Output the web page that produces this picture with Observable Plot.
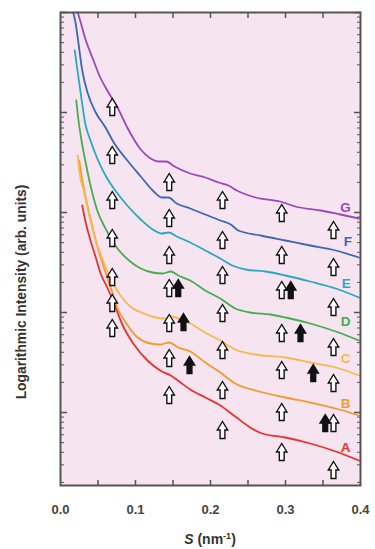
<!DOCTYPE html>
<html><head><meta charset="utf-8">
<script src="https://cdn.jsdelivr.net/npm/d3@7"></script>
<script src="https://cdn.jsdelivr.net/npm/@observablehq/plot@0.6"></script>
<style>
body{margin:0;background:#fff;font-family:"Liberation Sans",Arial,sans-serif;}
#xlabel{width:300px;margin-left:60px;text-align:center;font-weight:bold;font-size:14px;color:#333;height:24px;line-height:22px;}
#xlabel .sup{font-size:9px;vertical-align:5px;}
</style></head><body>
<div id="chart"></div>
<div id="xlabel"><i>S</i> (nm<span class="sup">-1</span>)</div>
<script>
// Curve names and colors
const curveNames = ["A","B","C","D","E","F","G"];
const curveColors = ["#e8332f","#f39a2e","#f5b94f","#45ae4c","#2aa8c2","#3b67b4","#9b48bd"];

// log10 intensity (arb. units), vs S (nm^-1)
const sA = [0.029,0.033,0.040,0.047,0.053,0.063,0.071,0.083,0.097,0.116,0.133,0.147,0.160,0.173,0.193,0.211,0.233,0.253,0.269,0.300,0.333,0.367,0.398];
const logIA = [3.07,2.92,2.72,2.55,2.40,2.24,2.10,1.87,1.69,1.52,1.42,1.37,1.30,1.23,1.15,1.08,0.96,0.85,0.79,0.75,0.69,0.61,0.52];
const sB = [0.025,0.028,0.033,0.040,0.047,0.057,0.067,0.076,0.087,0.100,0.120,0.133,0.145,0.157,0.173,0.193,0.213,0.233,0.260,0.300,0.333,0.367,0.398];
const logIB = [3.52,3.37,3.17,2.94,2.72,2.47,2.25,2.04,1.90,1.77,1.69,1.68,1.70,1.65,1.61,1.50,1.40,1.29,1.22,1.15,1.10,1.04,0.97];
const sC = [0.023,0.025,0.031,0.036,0.044,0.053,0.067,0.080,0.093,0.111,0.127,0.139,0.149,0.160,0.173,0.193,0.213,0.233,0.260,0.300,0.333,0.367,0.398];
const logIC = [3.57,3.42,3.22,3.05,2.80,2.59,2.34,2.17,2.06,1.99,1.95,1.94,1.96,1.93,1.89,1.80,1.72,1.63,1.58,1.55,1.50,1.45,1.37];
const sD = [0.021,0.024,0.028,0.033,0.040,0.049,0.060,0.076,0.093,0.107,0.123,0.136,0.147,0.157,0.173,0.193,0.213,0.233,0.253,0.280,0.300,0.333,0.367,0.398];
const logID = [4.12,3.92,3.72,3.52,3.27,3.02,2.84,2.64,2.51,2.44,2.40,2.39,2.41,2.37,2.32,2.22,2.14,2.04,2.00,1.98,1.95,1.89,1.81,1.72];
const sE = [0.019,0.023,0.027,0.033,0.040,0.049,0.060,0.073,0.089,0.107,0.123,0.135,0.144,0.155,0.173,0.193,0.213,0.229,0.247,0.273,0.300,0.333,0.367,0.398];
const logIE = [4.62,4.40,4.19,3.89,3.72,3.54,3.37,3.22,3.07,2.93,2.83,2.79,2.80,2.76,2.70,2.62,2.54,2.47,2.43,2.41,2.37,2.31,2.24,2.15];
const sF = [0.017,0.020,0.024,0.029,0.036,0.047,0.060,0.071,0.087,0.107,0.123,0.135,0.144,0.155,0.173,0.193,0.213,0.227,0.237,0.267,0.300,0.333,0.367,0.398];
const logIF = [5.00,4.90,4.69,4.42,4.20,4.00,3.85,3.70,3.54,3.36,3.22,3.15,3.15,3.09,3.04,2.98,2.92,2.88,2.82,2.77,2.72,2.67,2.62,2.55];
const sG = [0.023,0.027,0.033,0.043,0.053,0.064,0.076,0.089,0.107,0.120,0.131,0.141,0.152,0.173,0.193,0.211,0.224,0.235,0.260,0.293,0.313,0.347,0.373,0.398];
const logIG = [5.00,4.90,4.74,4.54,4.35,4.20,4.05,3.85,3.63,3.54,3.51,3.51,3.46,3.39,3.35,3.30,3.27,3.22,3.15,3.11,3.06,3.02,2.98,2.94];

// Open arrow markers (peak positions)
const openArrowS = [0.069,0.069,0.069,0.069,0.069,0.069,0.069,
  0.145,0.145,0.145,0.145,0.145,0.145,0.145,
  0.216,0.216,0.216,0.216,0.216,0.216,0.216,
  0.295,0.295,0.295,0.295,0.295,0.295,0.295,
  0.364,0.364,0.364,0.364,0.364,0.364,0.364];
const openArrowLogI = [4.05,3.57,3.12,2.74,2.35,2.09,1.84,
  3.30,2.94,2.57,2.24,1.89,1.54,1.17,
  3.12,2.72,2.37,1.99,1.62,1.22,0.82,
  2.99,2.57,2.22,1.79,1.42,1.00,0.60,
  2.82,2.45,2.05,1.65,1.29,0.89,0.42];
// Filled arrow markers
const filledArrowS = [0.157,0.164,0.172,0.307,0.320,0.337,0.353];
const filledArrowLogI = [2.24,1.90,1.47,2.22,1.79,1.39,0.89];

// Curve letter labels
const labelS = [0.380,0.380,0.380,0.380,0.381,0.383,0.380];
const labelLogI = [0.65,1.09,1.54,1.91,2.29,2.71,3.05];

const xTickValues = [0,0.1,0.2,0.3,0.4];
const xMinorTicks = [0.05,0.1,0.15,0.2,0.25,0.3,0.35];
const decadeTicks = [10,100,1000,10000,100000];
const yLabel = "Logarithmic Intensity (arb. units)";

const seriesS = [sA,sB,sC,sD,sE,sF,sG];
const seriesL = [logIA,logIB,logIC,logID,logIE,logIF,logIG];
const rows = [];
curveNames.forEach((name,i)=>{
  seriesS[i].forEach((s,j)=>rows.push({curve:name, s, I: Math.pow(10, seriesL[i][j])}));
});
const openArrows = openArrowS.map((s,i)=>({s, I: Math.pow(10, openArrowLogI[i])}));
const filledArrows = filledArrowS.map((s,i)=>({s, I: Math.pow(10, filledArrowLogI[i])}));
const labels = curveNames.map((name,i)=>({curve:name, s: labelS[i], I: Math.pow(10, labelLogI[i])}));

const arrowSymbol = {
  draw(context, size) {
    const k = Math.sqrt(size / Math.PI) / 5;
    context.moveTo(0, -9*k);
    context.lineTo(5.2*k, -0.5*k);
    context.lineTo(2.4*k, -0.5*k);
    context.lineTo(2.4*k, 8*k);
    context.lineTo(-2.4*k, 8*k);
    context.lineTo(-2.4*k, -0.5*k);
    context.lineTo(-5.2*k, -0.5*k);
    context.closePath();
  }
};

const bg = "#f6e4f0";
const chart = Plot.plot({
  width: 375,
  height: 525,
  marginTop: 12,
  marginBottom: 40,
  marginLeft: 60,
  marginRight: 15,
  style: {fontFamily: "'Liberation Sans', Arial, sans-serif", background: "white", overflow: "visible"},
  x: {domain: [0, 0.4]},
  y: {type: "log", domain: [1.862, 100000]},
  color: {domain: curveNames, range: curveColors},
  marks: [
    Plot.frame({fill: bg, stroke: "none"}),
    Plot.line(rows, {x: "s", y: "I", z: "curve", stroke: "curve", strokeWidth: 1.8, curve: "monotone-x"}),
    Plot.dot(openArrows, {x: "s", y: "I", symbol: arrowSymbol, r: 5, fill: "white", stroke: "#111", strokeWidth: 1.4}),
    Plot.dot(filledArrows, {x: "s", y: "I", symbol: arrowSymbol, r: 5, fill: "#111", stroke: "#111", strokeWidth: 1.4}),
    Plot.text(labels, {x: "s", y: "I", text: "curve", fill: "curve", fontSize: 13.5, fontWeight: "bold"}),
    Plot.axisX({anchor: "bottom", ticks: xTickValues, tickSize: 0, tickPadding: 19, tickFormat: d3.format(".1f"), fontSize: 13, fontWeight: "bold", fill: "#444", label: null}),
    Plot.axisX({anchor: "bottom", ticks: xMinorTicks, tickSize: -5, fill: "none", stroke: "#555", strokeWidth: 1.5, label: null}),
    Plot.axisX({anchor: "top", ticks: xMinorTicks, tickSize: -5, fill: "none", stroke: "#555", strokeWidth: 1.5, label: null}),
    Plot.axisY({anchor: "left", tickSize: -4, fill: "none", stroke: "#555", label: null}),
    Plot.axisY({anchor: "left", ticks: decadeTicks, tickSize: -7, fill: "none", stroke: "#555", strokeWidth: 1.5, label: null}),
    Plot.axisY({anchor: "right", tickSize: -4, fill: "none", stroke: "#555", label: null}),
    Plot.axisY({anchor: "right", ticks: decadeTicks, tickSize: -7, fill: "none", stroke: "#555", strokeWidth: 1.5, label: null}),
    Plot.text([yLabel], {frameAnchor: "left", dx: -39, dy: 43, rotate: -90, textAnchor: "middle", lineAnchor: "middle", text: d => d, fontSize: 13.8, fontWeight: "bold", fill: "#333"}),
    Plot.frame({stroke: "#555", strokeWidth: 2})
  ]
});
document.getElementById("chart").appendChild(chart);
</script>
</body></html>
